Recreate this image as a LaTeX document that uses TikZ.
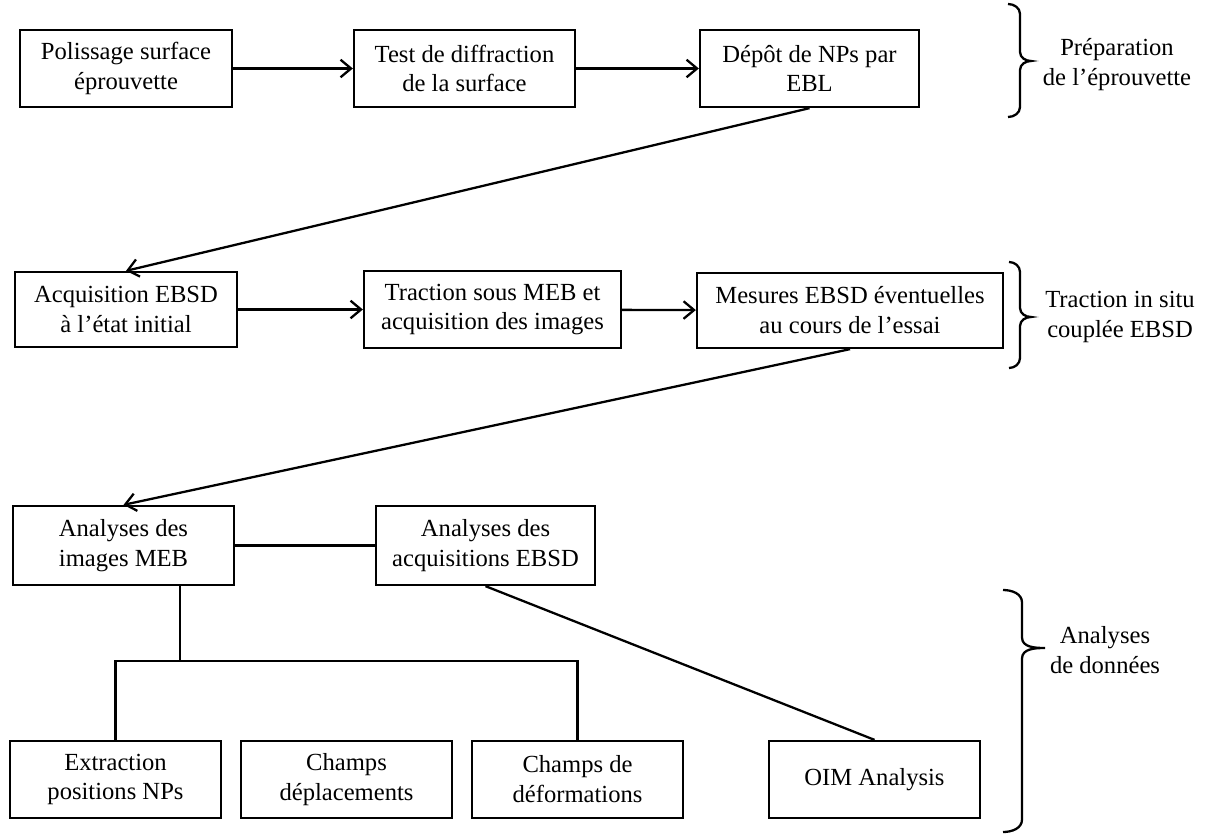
\documentclass[tikz,border=0pt]{standalone}
\usepackage{fontspec}
\setmainfont{Liberation Serif}
\usetikzlibrary{arrows.meta}

\begin{document}
\begin{tikzpicture}[
    >={Straight Barb[length=6pt,width=10pt]},
    bloc/.style={draw, line width=1.3pt, align=center, minimum height=1.54cm,
        inner sep=2pt, font=\fontsize{14}{17}\selectfont},
    lien/.style={line width=1.3pt},
    legende/.style={align=center, font=\fontsize{14}{17}\selectfont}
]
    \useasboundingbox (0,0) rectangle (24.14,16.7);

    % Preparation de l'eprouvette
    \node[bloc, minimum width=4.24cm] (polissage) at (2.52,15.33) {Polissage surface\\éprouvette};
    \node[bloc, minimum width=4.42cm] (diffraction) at (9.29,15.33) {Test de diffraction\\de la surface};
    \node[bloc, minimum width=4.38cm] (depot) at (16.19,15.33) {Dépôt de NPs par\\EBL};

    \draw[lien, ->] (polissage) -- (diffraction);
    \draw[lien, ->] (diffraction) -- (depot);

    % Traction in situ
    \node[bloc, minimum width=4.44cm, minimum height=1.5cm] (acquisition) at (2.52,10.51) {Acquisition EBSD\\à l’état initial};
    \node[bloc, minimum width=5.14cm] (traction) at (9.85,10.51) {Traction sous MEB et\\acquisition des images};
    \node[bloc, minimum width=6.12cm, minimum height=1.5cm] (mesures) at (17.0,10.49) {Mesures EBSD éventuelles\\au cours de l’essai};

    \draw[lien, ->] (depot.south) -- (acquisition.north);
    \draw[lien, ->] (acquisition) -- (traction);
    \draw[lien, ->] (traction) -- (mesures);

    % Analyses de donnees
    \node[bloc, minimum width=4.42cm, minimum height=1.58cm] (imagesmeb) at (2.47,5.79) {Analyses des\\images MEB};
    \node[bloc, minimum width=4.38cm, minimum height=1.58cm] (acqebsd) at (9.71,5.79) {Analyses des\\acquisitions EBSD};

    \node[bloc, minimum width=4.22cm] (extraction) at (2.31,1.11) {Extraction\\positions NPs};
    \node[bloc, minimum width=4.22cm] (deplacements) at (6.93,1.11) {Champs\\déplacements};
    \node[bloc, minimum width=4.22cm] (deformations) at (11.55,1.11) {Champs de\\déformations};
    \node[bloc, minimum width=4.22cm] (oim) at (17.49,1.11) {OIM Analysis};

    \draw[lien, ->] (mesures.south) -- (imagesmeb.north);
    \draw[lien] (imagesmeb) -- (acqebsd);
    \coordinate (embranchement) at (3.6,3.48);
    \draw[lien] (imagesmeb.south -| embranchement) -- (embranchement);
    \draw[lien] (extraction.north) |- (embranchement) -| (deformations.north);
    \draw[lien] (acqebsd.south) -- (oim.north);

    % Accolades
    \draw[lien] (20.16,16.62) to[out=0,in=90] (20.4,16.42) -- (20.4,15.66)
        to[out=-90,in=180] (20.62,15.48) to[out=180,in=90] (20.4,15.3)
        -- (20.4,14.56) to[out=-90,in=0] (20.16,14.36);
    \draw[lien] (20.18,11.46) to[out=0,in=90] (20.4,11.26) -- (20.4,10.54)
        to[out=-90,in=180] (20.62,10.36) to[out=180,in=90] (20.4,10.18)
        -- (20.4,9.54) to[out=-90,in=0] (20.18,9.34);
    \draw[lien] (20.06,4.9) to[out=0,in=90] (20.44,4.65) -- (20.44,3.95)
        to[out=-90,in=180] (20.9,3.74) to[out=180,in=90] (20.44,3.53)
        -- (20.44,0.31) to[out=-90,in=0] (20.06,0.06);

    \node[legende] (prep) at (22.34,15.4) {Préparation\\de l’éprouvette};
    \node[legende] (insitu) at (22.4,10.36) {Traction in situ\\couplée EBSD};
    \node[legende] (donnees) at (22.1,3.7) {Analyses\\de données};
\end{tikzpicture}
\end{document}
